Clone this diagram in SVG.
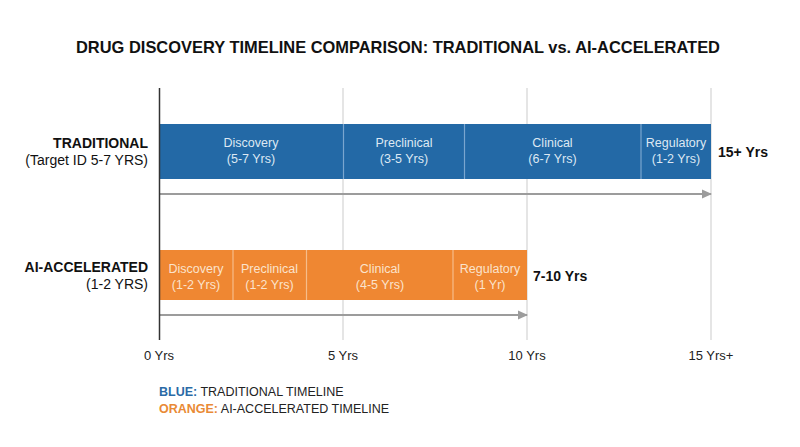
<svg xmlns="http://www.w3.org/2000/svg" width="800" height="447" viewBox="0 0 800 447">
<style>
text{font-family:"Liberation Sans",Arial,sans-serif}
.title{font-size:16.5px;font-weight:bold;fill:#111}
.rl{font-size:14px;fill:#111;text-anchor:end}
.rlb{font-weight:bold}
.bl{font-size:12.5px;fill:#dde8f3;text-anchor:middle}
.ol{font-size:12.5px;fill:#fbe3cc;text-anchor:middle}
.tot{font-size:14px;font-weight:bold;fill:#111}
.ax{font-size:13px;fill:#222;text-anchor:middle}
.lg{font-size:12.5px;fill:#222}
.grid{stroke:#d4d4d4;stroke-width:1.2}
.blue{fill:#2369a6}
.orange{fill:#ef8732}
.div{stroke-width:1.2}
.arr{stroke:#9c9c9c;stroke-width:2;fill:none;marker-end:url(#ah)}
</style>
<defs>
<marker id="ah" markerWidth="10" markerHeight="10" refX="9" refY="5" orient="auto" markerUnits="userSpaceOnUse">
<path d="M0,0.5 L10,5 L0,9.5 Z" fill="#9c9c9c"/>
</marker>
</defs>
<rect width="800" height="447" fill="#fff"/>
<text id="title" class="title" x="398" y="53" text-anchor="middle" textLength="644" lengthAdjust="spacingAndGlyphs">DRUG DISCOVERY TIMELINE COMPARISON: TRADITIONAL vs. AI-ACCELERATED</text>
<g id="grid">
<line class="grid" x1="343" y1="88" x2="343" y2="340"/>
<line class="grid" x1="527" y1="88" x2="527" y2="340"/>
<line class="grid" x1="711" y1="88" x2="711" y2="340"/>
</g>
<g id="row-labels">
<text class="rl rlb" x="148" y="148">TRADITIONAL</text>
<text class="rl" x="148" y="165">(Target ID 5-7 YRS)</text>
<text class="rl rlb" x="148" y="272">AI-ACCELERATED</text>
<text class="rl" x="148" y="289">(1-2 YRS)</text>
</g>
<g id="traditional">
<rect class="blue" x="159" y="124" width="552" height="55"/>
<g stroke="#7aa6cf" class="div">
<line x1="343.5" y1="124" x2="343.5" y2="179"/>
<line x1="464.5" y1="124" x2="464.5" y2="179"/>
<line x1="641" y1="124" x2="641" y2="179"/>
</g>
<text class="bl" x="251" y="147">Discovery</text>
<text class="bl" x="251" y="163">(5-7 Yrs)</text>
<text class="bl" x="404" y="147">Preclinical</text>
<text class="bl" x="404" y="163">(3-5 Yrs)</text>
<text class="bl" x="552.5" y="147">Clinical</text>
<text class="bl" x="552.5" y="163">(6-7 Yrs)</text>
<text class="bl" x="676" y="147">Regulatory</text>
<text class="bl" x="676" y="163">(1-2 Yrs)</text>
<text class="tot" x="718" y="157">15+ Yrs</text>
</g>
<g id="ai-accelerated">
<rect class="orange" x="159" y="250" width="368" height="50"/>
<g stroke="#f6bd8a" class="div">
<line x1="233" y1="250" x2="233" y2="300"/>
<line x1="306.5" y1="250" x2="306.5" y2="300"/>
<line x1="453" y1="250" x2="453" y2="300"/>
</g>
<text class="ol" x="196" y="273">Discovery</text>
<text class="ol" x="196" y="289">(1-2 Yrs)</text>
<text class="ol" x="269.5" y="273">Preclinical</text>
<text class="ol" x="269.5" y="289">(1-2 Yrs)</text>
<text class="ol" x="380" y="273">Clinical</text>
<text class="ol" x="380" y="289">(4-5 Yrs)</text>
<text class="ol" x="490" y="273">Regulatory</text>
<text class="ol" x="490" y="289">(1 Yr)</text>
<text class="tot" x="533" y="281">7-10 Yrs</text>
</g>
<g id="connectors">
<line class="arr" x1="159" y1="194" x2="711" y2="194"/>
<line class="arr" x1="159" y1="315" x2="527" y2="315"/>
<line x1="159.5" y1="88" x2="159.5" y2="340" stroke="#333" stroke-width="1.5"/>
</g>
<g id="axis-labels">
<text class="ax" x="159" y="360">0 Yrs</text>
<text class="ax" x="343" y="360">5 Yrs</text>
<text class="ax" x="527" y="360">10 Yrs</text>
<text class="ax" x="711" y="360">15 Yrs+</text>
</g>
<g id="legend">
<text class="lg" x="159" y="396"><tspan font-weight="bold" fill="#2a6aa6">BLUE:</tspan> TRADITIONAL TIMELINE</text>
<text class="lg" x="159" y="413"><tspan font-weight="bold" fill="#e98a36">ORANGE:</tspan> AI-ACCELERATED TIMELINE</text>
</g>
</svg>
